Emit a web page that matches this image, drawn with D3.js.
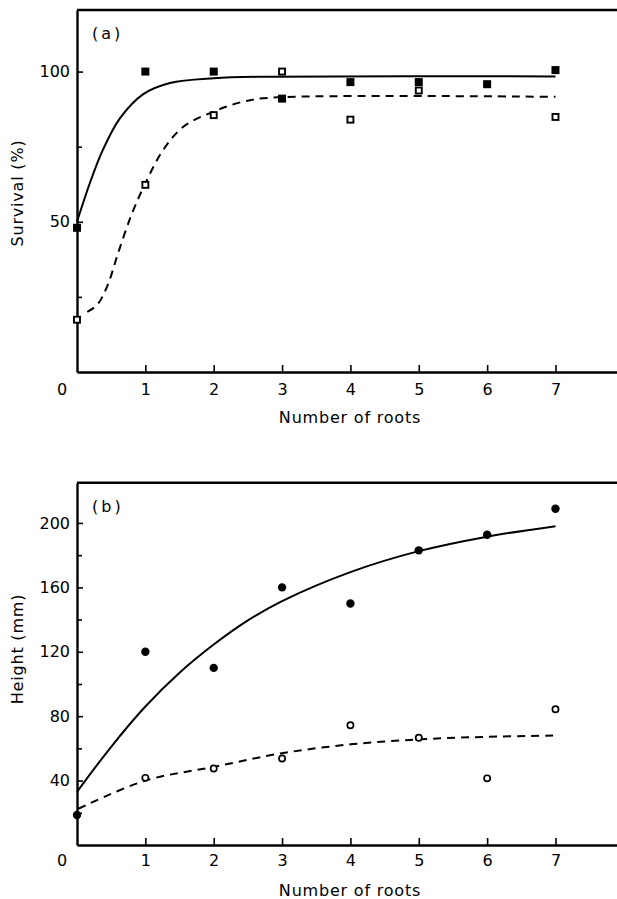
<!DOCTYPE html>
<html>
<head>
<meta charset="utf-8">
<script src="https://cdn.jsdelivr.net/npm/d3@7"></script>
<style>
  body { margin: 0; background: #fff; }
  text { font-family: "DejaVu Sans", sans-serif; fill: #000; }
</style>
</head>
<body>
<svg id="chart" width="617" height="899"></svg>
<script>
// values
var roots = [0, 1, 2, 3, 4, 5, 6, 7];

// (a) survival, filled and open squares (no open square at 6 roots)
var survivalFilled = [48, 100, 100, 91, 96.5, 96.5, 95.8, 100.5];
var survivalOpen = [17.4, 62.3, 85.5, 100, 84, 93.7, null, 84.9];

// (a) fitted curves
var survSolidX = [0, 0.19, 0.38, 0.63, 0.97, 1.36, 2, 2.82, 7];
var survSolidY = [50, 63, 74, 84.5, 92.5, 96.2, 97.8, 98.3, 98.4];
var survDashX = [0.15, 0.3, 0.45, 0.6, 0.8, 1, 1.26, 1.56, 2, 2.43, 2.82, 7];
var survDashY = [20, 22.5, 29, 39.5, 52.5, 62.8, 73.9, 81.7, 86.7, 90, 91.3, 91.6];

// (b) height, filled and open circles
var heightFilled = [18.6, 120, 110, 160, 150, 183, 192.7, 208.8];
var heightOpen = [null, 41.7, 47.5, 53.7, 74.4, 66.6, 41.4, 84.3];

// (b) fitted curves
var heightSolidX = [0, 0.5, 1, 1.5, 2, 2.5, 3, 4, 5, 6, 7];
var heightSolidY = [33, 61, 86, 107, 124.5, 139.5, 151.5, 169.5, 182.5, 191.5, 198];
var heightDashX = [0.02, 1, 2, 3, 4, 5, 6, 7];
var heightDashY = [22.5, 40, 48.5, 57, 62.5, 65.6, 67.2, 68];

// tick labels
var survTicks = [50, 100], survMinor = [25, 75];
var heightTicks = [40, 80, 120, 160, 200], heightMinor = [20, 60, 100, 140, 180];

var svg = d3.select("#chart");

var x = d3.scaleLinear().domain([0, 7.9]).range([77, 617]);

function pairs(xs, ys) {
    return xs.map(function (d, i) { return [d, ys[i]]; });
}

function points(ys) {
    return roots.map(function (r, i) { return { x: r, y: ys[i] }; })
        .filter(function (d) { return d.y != null; });
}

function drawPanel(p) {
    var y = d3.scaleLinear().domain(p.yDomain).range([p.bottom, p.top]);
    var g = svg.append("g");

    // x axis, ticks pointing in
    g.append("g")
        .attr("transform", "translate(0," + p.bottom + ")")
        .call(d3.axisBottom(x).tickValues([1, 2, 3, 4, 5, 6, 7])
            .tickFormat(d3.format("d")).tickSize(-7).tickSizeOuter(0).tickPadding(p.xPad));

    // corner "0"
    g.append("text")
        .attr("x", x(0) - 15)
        .attr("y", p.bottom + p.xPad)
        .attr("dy", "0.71em")
        .attr("text-anchor", "middle")
        .style("font-size", "16px")
        .text("0");

    // y axis
    g.append("g")
        .attr("transform", "translate(" + x(0) + ",0)")
        .call(d3.axisLeft(y).tickValues(p.ticks).tickSize(-6).tickSizeOuter(0).tickPadding(7));

    g.append("g")
        .attr("transform", "translate(" + x(0) + ",0)")
        .call(d3.axisLeft(y).tickValues(p.minor).tickFormat("").tickSize(-5).tickSizeOuter(0))
        .select(".domain").remove();

    g.selectAll(".tick line, .domain")
        .attr("stroke", "#000")
        .attr("stroke-width", 1.6);
    g.selectAll(".domain").attr("stroke-width", 2.4);
    g.selectAll(".tick text")
        .style("font-family", "DejaVu Sans, sans-serif")
        .style("font-size", "16px")
        .attr("fill", "#000");

    // top frame line
    g.append("line")
        .attr("x1", x.range()[0]).attr("x2", x.range()[1])
        .attr("y1", y.range()[1]).attr("y2", y.range()[1])
        .attr("stroke", "#000")
        .attr("stroke-width", 2.4);

    // fitted curves
    var line = d3.line()
        .x(function (d) { return x(d[0]); })
        .y(function (d) { return y(d[1]); })
        .curve(d3.curveCatmullRom.alpha(0.5));

    g.append("path")
        .attr("d", line(p.solid))
        .attr("fill", "none")
        .attr("stroke", "#000")
        .attr("stroke-width", 2);

    g.append("path")
        .attr("d", line(p.dashed))
        .attr("fill", "none")
        .attr("stroke", "#000")
        .attr("stroke-width", 2)
        .attr("stroke-dasharray", "8,6");

    // markers
    if (p.shape == "square") {
        g.selectAll(".filled").data(points(p.filled)).enter().append("rect")
            .attr("x", function (d) { return x(d.x) - 4; })
            .attr("y", function (d) { return y(d.y) - 4; })
            .attr("width", 8).attr("height", 8)
            .attr("fill", "#000");
        g.selectAll(".open").data(points(p.open)).enter().append("rect")
            .attr("x", function (d) { return x(d.x) - 3; })
            .attr("y", function (d) { return y(d.y) - 3; })
            .attr("width", 6).attr("height", 6)
            .attr("fill", "#fff")
            .attr("stroke", "#000")
            .attr("stroke-width", 1.9);
    } else {
        g.selectAll(".filled").data(points(p.filled)).enter().append("circle")
            .attr("cx", function (d) { return x(d.x); })
            .attr("cy", function (d) { return y(d.y); })
            .attr("r", 4.2)
            .attr("fill", "#000");
        g.selectAll(".open").data(points(p.open)).enter().append("circle")
            .attr("cx", function (d) { return x(d.x); })
            .attr("cy", function (d) { return y(d.y); })
            .attr("r", 3.1)
            .attr("fill", "#fff")
            .attr("stroke", "#000")
            .attr("stroke-width", 1.7);
    }

    // labels
    g.append("text")
        .attr("x", 92)
        .attr("y", p.top + 29)
        .style("font-size", "16px")
        .style("letter-spacing", "3px")
        .text(p.tag);

    g.append("text")
        .attr("x", 350)
        .attr("y", p.bottom + 51)
        .attr("text-anchor", "middle")
        .style("font-size", "16px")
        .style("letter-spacing", "0.8px")
        .text("Number of roots");

    g.append("text")
        .attr("transform", "translate(23," + p.yTitleAt + ") rotate(-90)")
        .attr("text-anchor", "middle")
        .style("font-size", "16px")
        .style("letter-spacing", "0.8px")
        .text(p.yTitle);
}

drawPanel({
    top: 10, bottom: 372, yDomain: [0, 120.5],
    ticks: survTicks, minor: survMinor, xPad: 12,
    solid: pairs(survSolidX, survSolidY),
    dashed: pairs(survDashX, survDashY),
    filled: survivalFilled, open: survivalOpen, shape: "square",
    tag: "(a)", yTitle: "Survival (%)", yTitleAt: 193
});

drawPanel({
    top: 482.7, bottom: 845, yDomain: [0, 225],
    ticks: heightTicks, minor: heightMinor, xPad: 10,
    solid: pairs(heightSolidX, heightSolidY),
    dashed: pairs(heightDashX, heightDashY),
    filled: heightFilled, open: heightOpen, shape: "circle",
    tag: "(b)", yTitle: "Height (mm)", yTitleAt: 649
});
</script>
</body>
</html>
